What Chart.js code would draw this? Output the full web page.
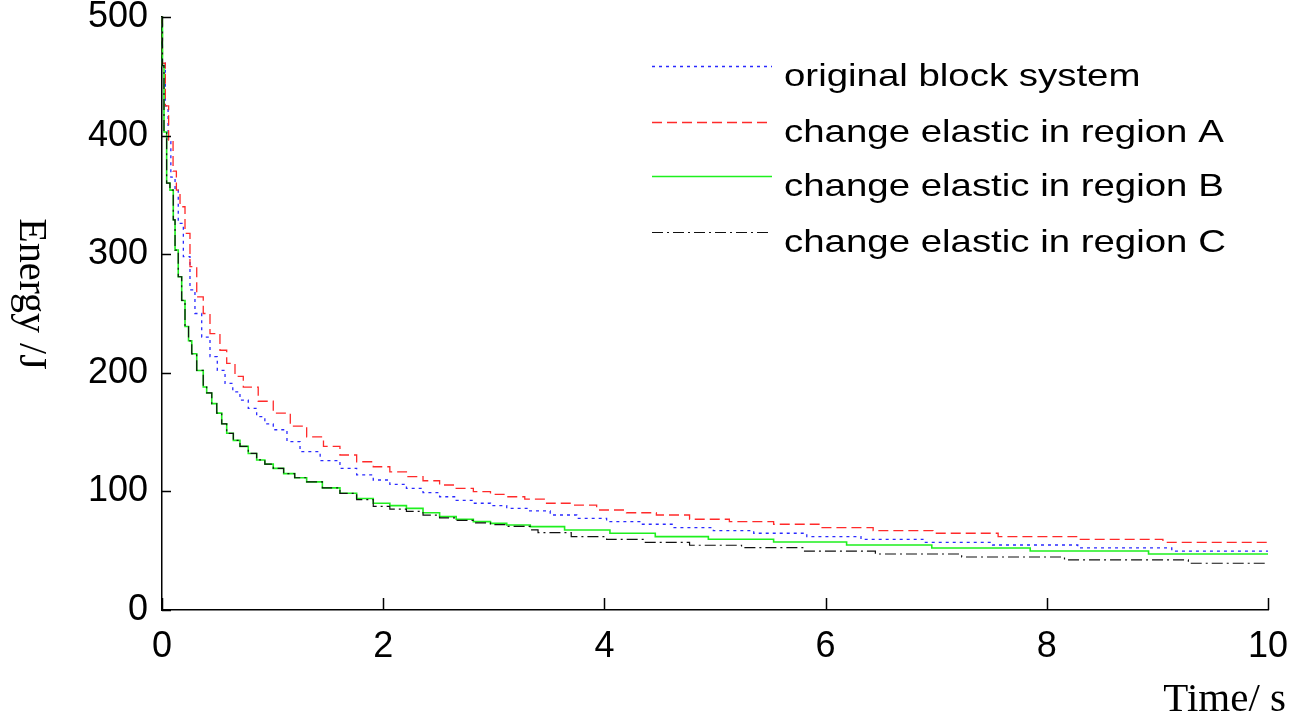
<!DOCTYPE html>
<html>
<head>
<meta charset="utf-8">
<script src="https://cdn.jsdelivr.net/npm/chart.js@4"></script>
<style>
  html, body { margin: 0; padding: 0; background: #fff; }
</style>
</head>
<body>
<canvas id="energyChart" width="1293" height="726"></canvas>
<script>
// series labels
var seriesNames = [
  "original block system",
  "change elastic in region A",
  "change elastic in region B",
  "change elastic in region C"
];

// axis ticks
var xTicks = [0, 2, 4, 6, 8, 10];
var yTicks = [0, 100, 200, 300, 400, 500];

// original block system (blue dotted)
var timeOrig = [0, 0.004, 0.03, 0.055, 0.08, 0.118, 0.147, 0.193, 0.253, 0.298, 0.359, 0.434, 0.50, 0.57, 0.64, 0.705, 0.78, 0.856, 0.93, 1.006, 1.13, 1.248, 1.43, 1.609, 1.76, 1.91, 2.06, 2.21, 2.36, 2.51, 2.66, 2.815, 2.97, 3.117, 3.30, 3.51, 3.75, 4.02, 4.32, 4.62, 4.985, 5.35, 5.83, 6.32, 6.88, 7.51, 8.28, 9.13, 10];
var energyOrig = [500, 461, 425, 395, 365, 354, 326, 298, 270, 250, 230, 213.6, 202, 191, 184, 177, 170, 163, 157, 152, 142, 133.5, 126, 119.4, 114, 109.6, 106, 102.6, 99, 95.5, 92.5, 90, 88, 85.7, 83.5, 80.1, 77.3, 74.5, 72.3, 69.5, 66.9, 64.7, 61.9, 59.6, 57.1, 54.8, 52.3, 49.7, 49.7];

// region A (red dashed)
var timeA = [0, 0.004, 0.03, 0.06, 0.10, 0.13, 0.163, 0.208, 0.253, 0.314, 0.373, 0.434, 0.524, 0.585, 0.66, 0.735, 0.87, 1.006, 1.16, 1.308, 1.46, 1.609, 1.76, 1.91, 2.06, 2.21, 2.36, 2.51, 2.66, 2.815, 2.97, 3.117, 3.28, 3.477, 3.69, 3.93, 4.20, 4.47, 4.77, 5.13, 5.53, 5.94, 6.43, 6.97, 7.56, 8.27, 9.05, 10];
var energyA = [500, 461, 425, 396, 370, 354, 340, 317.6, 289.5, 264, 250, 233, 219, 208, 197, 188, 176, 166, 155, 146, 138, 130.7, 125, 120.8, 116.5, 112.4, 109, 105.4, 102.5, 99.8, 97.5, 95.5, 93.5, 90, 88.5, 84.3, 82, 80.1, 76.5, 74.5, 72.3, 69.5, 66.9, 64.7, 61.9, 59.6, 57.1, 57.1];

// region B (green solid)
var timeB = [0, 0.004, 0.018, 0.042, 0.072, 0.102, 0.118, 0.147, 0.178, 0.208, 0.24, 0.269, 0.314, 0.373, 0.404, 0.45, 0.495, 0.54, 0.585, 0.645, 0.705, 0.78, 0.856, 0.93, 1.006, 1.1, 1.2, 1.308, 1.45, 1.609, 1.76, 1.91, 2.06, 2.21, 2.36, 2.51, 2.66, 2.815, 2.97, 3.117, 3.33, 3.64, 4.05, 4.46, 4.94, 5.53, 6.19, 6.96, 7.85, 8.92, 10];
var energyB = [500, 459, 403, 360, 354, 329, 303.5, 281, 261, 239, 227, 216, 202, 188, 183, 174, 166, 157, 149, 143, 138, 132, 126.5, 123, 119.4, 115, 111.5, 108, 103, 98.4, 94, 90, 88, 85.7, 82, 78.7, 76.5, 74.5, 73, 71.7, 70.3, 67.5, 64.7, 61.9, 59.6, 57.3, 54.8, 52.3, 49.7, 47.2, 47.2];

// region C (black dash-dot)
var timeC = [0, 0.004, 0.018, 0.042, 0.072, 0.102, 0.118, 0.147, 0.178, 0.208, 0.24, 0.269, 0.314, 0.373, 0.404, 0.45, 0.495, 0.54, 0.585, 0.645, 0.705, 0.78, 0.856, 0.93, 1.006, 1.1, 1.2, 1.308, 1.45, 1.609, 1.76, 1.91, 2.06, 2.21, 2.36, 2.51, 2.66, 2.815, 2.97, 3.117, 3.33, 3.40, 3.70, 4.02, 4.37, 4.77, 5.24, 5.80, 6.45, 7.23, 8.16, 9.28, 10];
var energyC = [500, 459, 403, 360, 354, 329, 303.5, 281, 261, 239, 227, 216, 202, 188, 183, 174, 166, 157, 149, 143, 138, 132, 126.5, 123, 119.4, 115, 111.5, 108, 103, 98.4, 93, 87.4, 85, 83.2, 80, 77.6, 75.5, 73.4, 72, 70.5, 67.5, 65.3, 61.9, 59.6, 57.1, 54.6, 52.6, 49.7, 47.2, 44.7, 42.2, 39.4, 39.4];

var lineColors = ["#2a2aff", "#ff2a2a", "#1ef01e", "#111111"];
var lineWidths = [1.3, 1.3, 1.6, 1.2];
var lineDashes = [[3, 4], [10, 5], [], [11, 4, 2, 4]];

function toPoints(ts, es) {
  return ts.map((t, i) => ({ x: t, y: es[i] }));
}

var allTimes = [timeOrig, timeA, timeB, timeC];
var allEnergy = [energyOrig, energyA, energyB, energyC];

var sansFont = "'Liberation Sans', Arial, sans-serif";
var serifFont = "'Liberation Serif', 'Times New Roman', serif";

// inward tick marks, axis titles and legend, drawn by hand
var decorPlugin = {
  id: "decor",
  afterDraw: function(chart) {
    var ctx = chart.ctx;
    var xs = chart.scales.x, ys = chart.scales.y;
    var area = chart.chartArea;
    ctx.save();
    ctx.strokeStyle = "#000";
    ctx.lineWidth = 1.5;
    ctx.beginPath();
    yTicks.forEach(v => {
      var py = Math.round(ys.getPixelForValue(v)) + 0.5;
      ctx.moveTo(area.left, py);
      ctx.lineTo(area.left + 9, py);
    });
    xTicks.forEach(v => {
      var px = Math.round(xs.getPixelForValue(v)) + 0.5;
      ctx.moveTo(px, area.bottom);
      ctx.lineTo(px, area.bottom - 12);
    });
    ctx.stroke();

    // axis titles
    ctx.fillStyle = "#000";
    ctx.font = "41px " + serifFont;
    ctx.textAlign = "right";
    ctx.textBaseline = "alphabetic";
    ctx.fillText("Time/ s", 1286, 711);

    ctx.save();
    ctx.translate(20, 294);
    ctx.rotate(Math.PI / 2);
    ctx.textAlign = "center";
    ctx.font = "40px " + serifFont;
    ctx.fillText("Energy /J", 0, 0);
    ctx.restore();

    // legend (text is a little wider than tall in the original)
    var rowY = [66, 122, 176, 232];
    seriesNames.forEach((name, i) => {
      ctx.strokeStyle = lineColors[i];
      ctx.lineWidth = lineWidths[i];
      ctx.setLineDash(lineDashes[i]);
      ctx.beginPath();
      ctx.moveTo(652, rowY[i] + 0.5);
      ctx.lineTo(772, rowY[i] + 0.5);
      ctx.stroke();
      ctx.setLineDash([]);
      ctx.save();
      ctx.translate(784, rowY[i] + 20);
      ctx.scale(1.2, 1);
      ctx.font = "32px " + sansFont;
      ctx.textAlign = "left";
      ctx.fillStyle = "#000";
      ctx.fillText(name, 0, 0);
      ctx.restore();
    });
    ctx.restore();
  }
};

var ctx = document.getElementById("energyChart");
var energyChart = new Chart(ctx, {
  type: "line",
  data: {
    datasets: seriesNames.map((name, i) => ({
      label: name,
      data: toPoints(allTimes[i], allEnergy[i]),
      borderColor: lineColors[i],
      borderWidth: lineWidths[i],
      borderDash: lineDashes[i],
      stepped: "before",
      pointRadius: 0,
      fill: false,
      clip: 4
    })).reverse()
  },
  options: {
    responsive: false,
    animation: false,
    layout: {
      padding: { top: 17, right: 25, left: 0, bottom: 0 }
    },
    plugins: {
      legend: { display: false },
      tooltip: { enabled: false }
    },
    scales: {
      x: {
        type: "linear",
        min: 0,
        max: 10,
        grid: { display: false, drawTicks: false },
        border: { display: true, color: "#000", width: 1.5 },
        ticks: {
          stepSize: 2,
          color: "#000",
          padding: 15,
          maxRotation: 0,
          font: { family: sansFont, size: 36 }
        },
        afterFit: function(scale) {
          scale.height = 116;
          scale.paddingLeft = 0;
          scale.paddingRight = 0;
        }
      },
      y: {
        type: "linear",
        min: 0,
        max: 500,
        grid: { display: false, drawTicks: false },
        border: { display: true, color: "#000", width: 1.5 },
        ticks: {
          stepSize: 100,
          color: "#000",
          padding: 14,
          font: { family: sansFont, size: 36 }
        },
        afterFit: function(scale) {
          scale.width = 162;
          scale.paddingTop = 0;
          scale.paddingBottom = 0;
        }
      }
    }
  },
  plugins: [decorPlugin]
});
</script>
</body>
</html>
